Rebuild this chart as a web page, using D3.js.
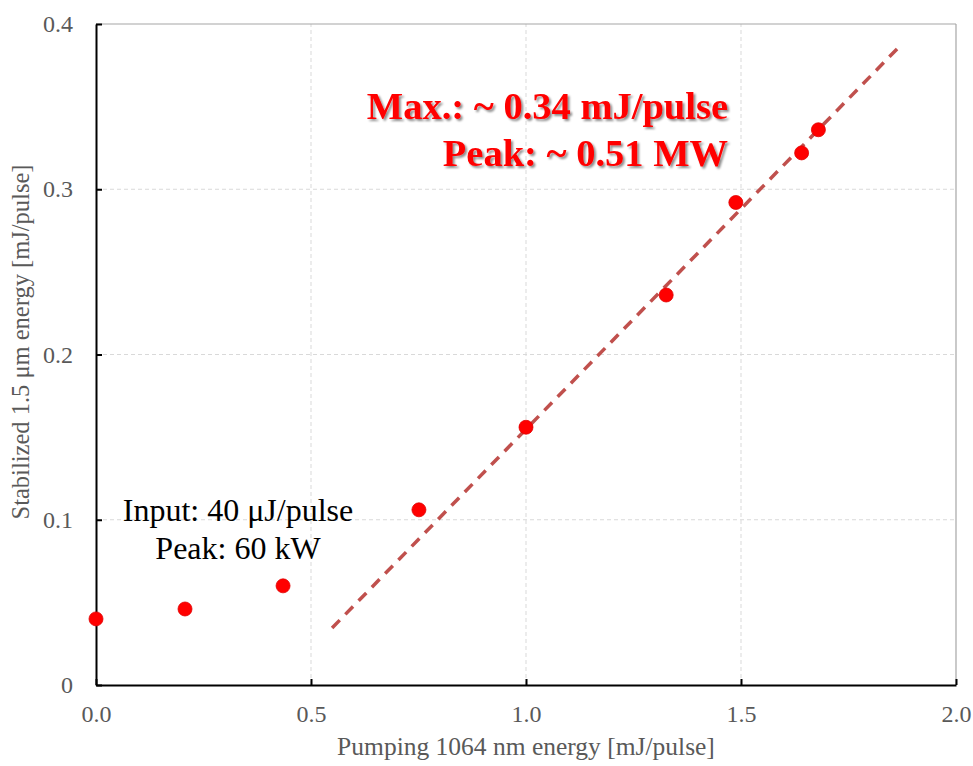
<!DOCTYPE html>
<html>
<head>
<meta charset="utf-8">
<script src="https://cdn.jsdelivr.net/npm/d3@7"></script>
<style>
  body { margin: 0; background: #fff; }
  svg { font-family: "Liberation Serif", "Times New Roman", serif; }
</style>
</head>
<body>
<div id="chart"></div>
<script>
// measured points
const pumpEnergy = [0.0, 0.207, 0.435, 0.751, 1.0, 1.326, 1.488, 1.641, 1.68];
const outEnergy = [0.040, 0.046, 0.060, 0.106, 0.156, 0.236, 0.292, 0.322, 0.336];

// linear fit (dashed)
const fitX = [0.549, 1.867];
const fitY = [0.0345, 0.386];

const xTicks = [0, 0.5, 1.0, 1.5, 2.0];
const yTicks = [0, 0.1, 0.2, 0.3, 0.4];

const width = 973, height = 766;
const margin = { left: 96, right: 17, top: 24, bottom: 81 };

const svg = d3.select('#chart').append('svg')
    .attr('width', width).attr('height', height);

const defs = svg.append('defs');
const shadow = defs.append('filter').attr('id', 'shadow')
    .attr('x', '-10%').attr('y', '-20%').attr('width', '130%').attr('height', '150%');
shadow.append('feDropShadow').attr('dx', 2).attr('dy', 2).attr('stdDeviation', 1.2)
    .attr('flood-color', '#000').attr('flood-opacity', 0.45);

const x = d3.scaleLinear().domain([0, 2]).range([margin.left, width - margin.right]);
const y = d3.scaleLinear().domain([0, 0.4]).range([height - margin.bottom, margin.top]);

// grid
svg.append('g').selectAll('line').data(xTicks.slice(1, -1)).join('line')
    .attr('x1', d => x(d)).attr('x2', d => x(d))
    .attr('y1', y(0)).attr('y2', y(0.4))
    .attr('stroke', '#d9d9d9').attr('stroke-width', 1).attr('stroke-dasharray', '4,3');
svg.append('g').selectAll('line').data(yTicks.slice(1, -1)).join('line')
    .attr('x1', x(0)).attr('x2', x(2))
    .attr('y1', d => y(d)).attr('y2', d => y(d))
    .attr('stroke', '#d9d9d9').attr('stroke-width', 1).attr('stroke-dasharray', '4,3');

// top / right frame
svg.append('line').attr('x1', x(0)).attr('x2', x(2)).attr('y1', y(0.4)).attr('y2', y(0.4))
    .attr('stroke', '#a6a6a6').attr('stroke-width', 1.2);
svg.append('line').attr('x1', x(2)).attr('x2', x(2)).attr('y1', y(0.4)).attr('y2', y(0))
    .attr('stroke', '#a6a6a6').attr('stroke-width', 1.2);

// axes
const xAxis = d3.axisBottom(x).tickValues(xTicks).tickFormat(d3.format('.1f')).tickSizeInner(-6).tickSizeOuter(0).tickPadding(20);
const yAxis = d3.axisLeft(y).tickValues(yTicks).tickFormat(d => d === 0 ? '0' : d3.format('.1f')(d)).tickSizeInner(-6).tickSizeOuter(0).tickPadding(23);

const gx = svg.append('g').attr('transform', `translate(0,${y(0)})`).call(xAxis);
const gy = svg.append('g').attr('transform', `translate(${x(0)},0)`).call(yAxis);
[gx, gy].forEach(g => {
    g.select('.domain').attr('stroke', '#000').attr('stroke-width', 2);
    g.selectAll('.tick line').attr('stroke', '#000').attr('stroke-width', 2);
    g.selectAll('.tick text').attr('fill', '#595959').style('font-size', '24px')
        .style('font-family', '"Liberation Serif", serif');
});
gx.selectAll('.tick text').attr('dy', '0.71em');

// axis titles
svg.append('text').attr('x', (x(0) + x(2)) / 2).attr('y', 755)
    .attr('text-anchor', 'middle').attr('fill', '#595959').style('font-size', '25.5px')
    .text('Pumping 1064 nm energy [mJ/pulse]');
svg.append('text').attr('transform', `translate(29,342) rotate(-90)`)
    .attr('text-anchor', 'middle').attr('fill', '#595959').style('font-size', '24.5px')
    .text('Stabilized 1.5 μm energy [mJ/pulse]');

// fit line
svg.append('line')
    .attr('x1', x(fitX[0])).attr('y1', y(fitY[0]))
    .attr('x2', x(fitX[1])).attr('y2', y(fitY[1]))
    .attr('stroke', '#c0504d').attr('stroke-width', 3.5).attr('stroke-dasharray', '11,8');

// points
svg.append('g').selectAll('circle').data(pumpEnergy.map((d, i) => [d, outEnergy[i]])).join('circle')
    .attr('cx', d => x(d[0])).attr('cy', d => y(d[1])).attr('r', 7)
    .attr('fill', '#ff0000').attr('stroke', '#e00000').attr('stroke-width', 0.8);

// annotations
const ann = svg.append('g').attr('filter', 'url(#shadow)')
    .attr('fill', '#ff0000').attr('font-weight', 'bold').style('font-size', '38.5px')
    .attr('text-anchor', 'end');
ann.append('text').attr('x', 728).attr('y', 119).text('Max.: ~ 0.34 mJ/pulse');
ann.append('text').attr('x', 728).attr('y', 166).text('Peak: ~ 0.51 MW');

const note = svg.append('g').attr('fill', '#000').style('font-size', '32px').attr('text-anchor', 'middle');
note.append('text').attr('x', 238).attr('y', 521).text('Input: 40 μJ/pulse');
note.append('text').attr('x', 238).attr('y', 559).text('Peak: 60 kW');
</script>
</body>
</html>
